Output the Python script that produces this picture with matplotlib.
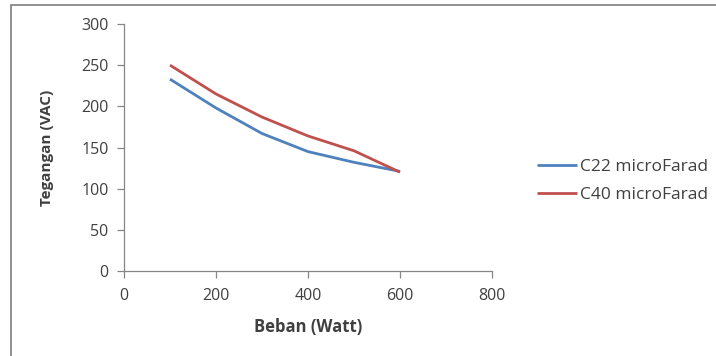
import matplotlib
matplotlib.use("Agg")
from matplotlib import pyplot as plt
from matplotlib.patches import Rectangle

# data
beban = [100, 200, 300, 400, 500, 600]
c22 = [233, 198, 167, 145, 132, 121]
c40 = [250, 215, 187, 164, 146, 120]
series_labels = ["C22 microFarad", "C40 microFarad"]
x_ticks = [0, 200, 400, 600, 800]
y_ticks = [0, 50, 100, 150, 200, 250, 300]

plt.rcParams["font.family"] = ["Open Sans", "DejaVu Sans"]
text_color = "#404040"
axis_color = "#868686"

fig = plt.figure(figsize=(7.16, 3.56), dpi=100)
ax = fig.add_axes([124 / 716, 1 - 271 / 356, 368 / 716, 247 / 356])

ax.plot(beban, c22, color="#4F81BD", lw=2.0, label=series_labels[0], solid_capstyle="butt")
ax.plot(beban, c40, color="#C0504D", lw=2.0, label=series_labels[1], solid_capstyle="butt")

ax.set_xlim(0, 800)
ax.set_ylim(0, 300)
ax.set_xticks(x_ticks)
ax.set_yticks(y_ticks)
for side in ["top", "right"]:
    ax.spines[side].set_visible(False)
for side in ["left", "bottom"]:
    ax.spines[side].set_color(axis_color)
    ax.spines[side].set_linewidth(0.9)
ax.tick_params(colors=axis_color, labelcolor=text_color, labelsize=11.5, length=5, width=0.9)
ax.tick_params(axis="x", pad=7)
ax.tick_params(axis="y", pad=6)

ax.set_xlabel("Beban (Watt)", fontsize=12, fontweight="bold", color=text_color, labelpad=10)
ax.set_ylabel("Tegangan (VAC)", fontsize=11, fontweight="bold", color=text_color, labelpad=20)

leg = ax.legend(loc="center left", bbox_to_anchor=((537 - 124) / 368, (271 - 181) / 247),
                frameon=False, borderpad=0, borderaxespad=0, fontsize=12.5,
                handlelength=2.3, handletextpad=0.15, labelspacing=0.65)
for t in leg.get_texts():
    t.set_color(text_color)

# chart border (cut off at right and bottom like the reference)
fig.patches.append(Rectangle((11 / 716, -0.1), 1.2, 1 - 5 / 356 + 0.1, transform=fig.transFigure,
                             fill=False, edgecolor="#7F7F7F", lw=1.2))

fig.savefig("out.png", dpi=100)
